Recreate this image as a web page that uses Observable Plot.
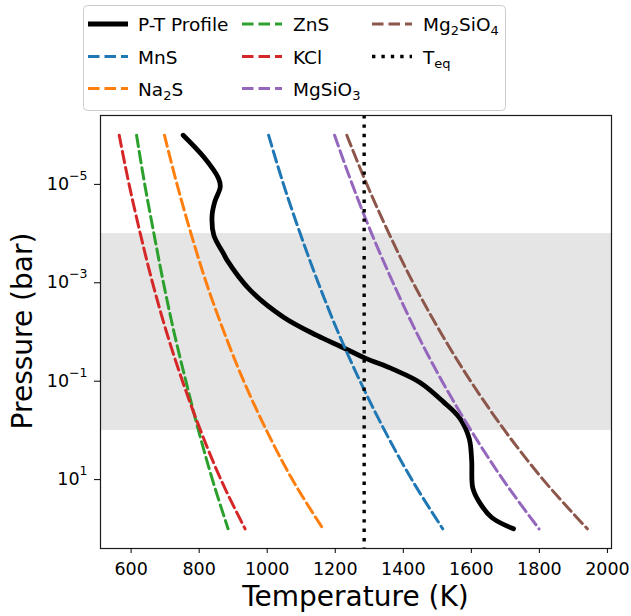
<!DOCTYPE html>
<html>
<head>
<meta charset="utf-8">
<script src="https://cdn.jsdelivr.net/npm/d3@7"></script>
<script src="https://cdn.jsdelivr.net/npm/@observablehq/plot@0.6"></script>
<style>
  html, body { margin: 0; padding: 0; background: #fff; }
  #wrap { position: relative; width: 631px; height: 616px; font-family: "DejaVu Sans", sans-serif; }
  #wrap > svg { position: absolute; left: 0; top: 0; }
</style>
</head>
<body>
<div id="wrap"></div>
<script>
// ---------- data ----------
const pressures = [1e-6, 1e-5, 1e-4, 1e-3, 1e-2, 1e-1, 1, 10, 100]; // bar
const tMnS     = [1004, 1048, 1097, 1150, 1208, 1273, 1345, 1425, 1516];
const tNa2S    = [698, 735, 776, 821, 873, 931, 998, 1074, 1164];
const tZnS     = [616, 640, 667, 695, 726, 761, 798, 839, 885];
const tKCl     = [565, 594, 627, 663, 704, 751, 804, 864, 935];
const tMgSiO3  = [1198, 1250, 1307, 1370, 1438, 1514, 1599, 1693, 1799];
const tMg2SiO4 = [1234, 1293, 1358, 1429, 1509, 1598, 1698, 1811, 1941];

const ptTemp = [753, 813, 857, 862, 846, 838, 843, 872, 882, 950, 1048, 1146, 1224, 1288, 1371, 1450, 1518, 1567, 1594, 1601, 1604, 1621, 1660, 1724];
const ptLogP = [-6.0, -5.56, -5.12, -4.95, -4.65, -4.37, -3.97, -3.59, -3.46, -2.85, -2.30, -1.93, -1.68, -1.47, -1.24, -0.97, -0.58, -0.24, 0.17, 0.61, 1.16, 1.43, 1.77, 2.0];

const teq = 1285;                 // K
const cloudBand = [1e-4, 1];      // bar
const xTicks = [600, 800, 1000, 1200, 1400, 1600, 1800, 2000];
const yTicks = [1e-5, 1e-3, 1e-1, 1e1];
const yTickExp = ["\u22125", "\u22123", "\u22121", "1"];

const species = ["MnS", "Na2S", "ZnS", "KCl", "MgSiO3", "Mg2SiO4"];
const speciesTemps = [tMnS, tNa2S, tZnS, tKCl, tMgSiO3, tMg2SiO4];
const speciesColors = ["#1f77b4", "#ff7f0e", "#2ca02c", "#d62728", "#9467bd", "#8c564b"];

// ---------- build tables ----------
const pt = ptTemp.map((T, i) => ({T, P: Math.pow(10, ptLogP[i])}));
const curves = species.map((s, k) => speciesTemps[k].map((T, i) => ({T, P: pressures[i]})));

const DASH = "11.5,5";
const DOT = "3.4,6";

const plot = Plot.plot({
  width: 631,
  height: 616,
  marginTop: 115,
  marginBottom: 68,
  marginLeft: 100,
  marginRight: 20,
  style: {fontFamily: "DejaVu Sans", fontSize: "17.5px", color: "#000", background: "transparent", overflow: "visible"},
  x: {domain: [510, 2012]},
  y: {type: "log", domain: [Math.pow(10, -6.4), Math.pow(10, 2.4)], reverse: true},
  marks: [
    Plot.rect([cloudBand], {y1: d => d[0], y2: d => d[1], fill: "#e5e5e5"}),
    Plot.line(pt, {x: "T", y: "P", stroke: "#000", strokeWidth: 4.8, curve: "catmull-rom", strokeLinejoin: "round"}),
    ...curves.map((c, k) => Plot.line(c, {x: "T", y: "P", stroke: speciesColors[k], strokeWidth: 3, strokeDasharray: DASH, curve: "monotone-y"})),
    Plot.ruleX([teq], {stroke: "#000", strokeWidth: 3.4, strokeDasharray: DOT}),
    Plot.frame({stroke: "#1a1a1a", strokeWidth: 1.2}),
    Plot.axisX({ticks: xTicks, tickSize: 5, tickPadding: 9, label: null, tickFormat: d => String(d)}),
    Plot.axisY({ticks: yTicks, tickSize: 6, tickPadding: 7, label: null, tickFormat: (d, i) => yTickExp[yTicks.indexOf(d)]})
  ]
});

const svg = d3.select(plot);
// superscript tick labels 10^n
svg.selectAll('g[aria-label="y-axis tick label"] text').each(function() {
  const e = this.textContent;
  const t = d3.select(this);
  t.text(null);
  t.append("tspan").text("10");
  t.append("tspan").attr("font-size", "12.5px").attr("dy", "-10").text(e);
});
// axis titles
svg.append("text").attr("x", 355.5).attr("y", 606).attr("text-anchor", "middle")
  .attr("font-size", "28px").attr("fill", "#000").text("Temperature (K)");
svg.append("text").attr("transform", "translate(32,331) rotate(-90)").attr("text-anchor", "middle")
  .attr("font-size", "28px").attr("fill", "#000").text("Pressure (bar)");

const wrap = document.getElementById("wrap");
wrap.appendChild(plot);

// ---------- legend ----------
const legendLabels = [
  ["P-T Profile"], ["MnS"], ["Na", "2", "S"], ["ZnS"], ["KCl"], ["MgSiO", "3"], ["Mg", "2", "SiO", "4"], ["T", "eq"]
];
const legendStroke = ["#000", ...speciesColors, "#000"];
const legendWidth = [4.8, 3, 3, 3, 3, 3, 3, 3.4];
const legendDash = [null, DASH, DASH, DASH, DASH, DASH, DASH, DOT];
const colHandleX = [88, 242, 372];
const colTextX = [138, 293, 423];
const rowY = [24, 56.5, 88.5];

const leg = d3.create("svg").attr("width", 631).attr("height", 115)
  .attr("font-family", "DejaVu Sans").attr("font-size", "18.5px");
leg.append("rect").attr("x", 83.5).attr("y", 5.5).attr("width", 422).attr("height", 105).attr("rx", 4)
  .attr("fill", "#fff").attr("stroke", "#cccccc").attr("stroke-width", 1);
legendLabels.forEach((parts, i) => {
  const col = Math.floor(i / 3), row = i % 3;
  const cy = rowY[row];
  const ln = leg.append("line").attr("x1", colHandleX[col]).attr("x2", colHandleX[col] + 40)
    .attr("y1", cy).attr("y2", cy).attr("stroke", legendStroke[i]).attr("stroke-width", legendWidth[i]);
  if (legendDash[i]) ln.attr("stroke-dasharray", legendDash[i]);
  const t = leg.append("text").attr("x", colTextX[col]).attr("y", cy + 7).attr("fill", "#000");
  parts.forEach((p, j) => {
    if (j % 2 === 0) {
      t.append("tspan").attr("dy", j === 0 ? 0 : -4).text(p);
    } else {
      t.append("tspan").attr("font-size", "13px").attr("dy", 4).text(p);
    }
  });
});
wrap.appendChild(leg.node());
</script>
</body>
</html>
